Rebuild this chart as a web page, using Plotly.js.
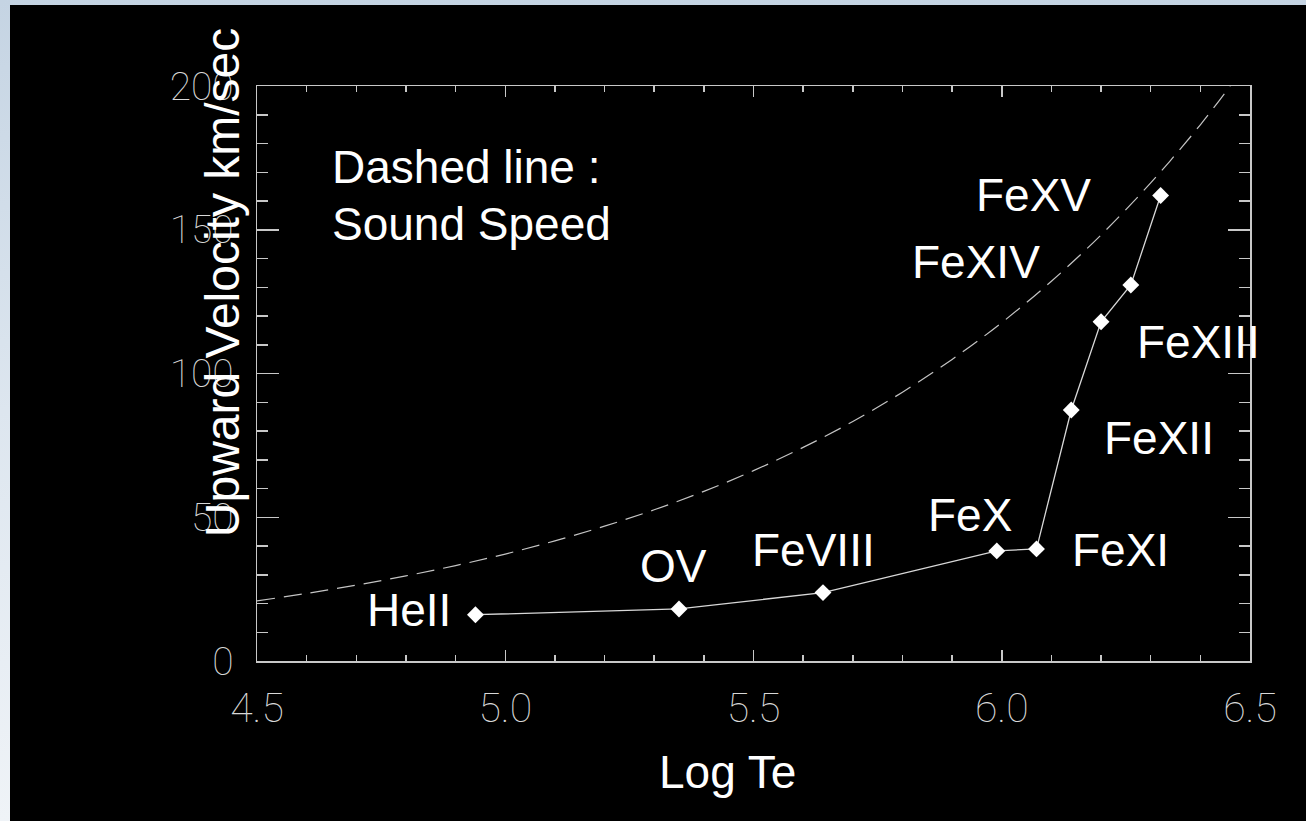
<!DOCTYPE html>
<html>
<head>
<meta charset="utf-8">
<script src="https://cdn.plot.ly/plotly-3.0.1.min.js"></script>
<style>
  html, body { margin: 0; padding: 0; width: 1306px; height: 821px; overflow: hidden;
    background: linear-gradient(to bottom, #c5d4e3 0%, #dde6ef 50%, #eff3f7 100%); }
  #chart { position: absolute; left: 10px; top: 5px; width: 1296px; height: 816px; }
</style>
</head>
<body>
<div id="chart"></div>
<script>
// ---- data ----
const ionLabels = ['HeII', 'OV', 'FeVIII', 'FeX', 'FeXI', 'FeXII', 'FeXIII', 'FeXIV', 'FeXV'];
const logTe = [4.94, 5.35, 5.64, 5.99, 6.07, 6.14, 6.20, 6.26, 6.32];
const upwardVelocity = [16.1, 18.1, 23.8, 38.3, 39.0, 87.3, 118.0, 130.8, 161.9];

const soundLogTe = [4.5, 4.6, 4.7, 4.8, 4.9, 5.0, 5.1, 5.2, 5.3, 5.4, 5.5, 5.6, 5.7, 5.8, 5.9, 6.0, 6.1, 6.2, 6.3, 6.4, 6.46];
const soundSpeed = [20.9, 23.5, 26.4, 29.6, 33.2, 37.2, 41.8, 46.9, 52.6, 59.0, 66.2, 74.3, 83.3, 93.5, 104.9, 117.7, 132.1, 148.2, 166.3, 186.5, 200.0];

const xTickVals = [4.5, 5.0, 5.5, 6.0, 6.5];
const xTickText = ['4.5', '5.0', '5.5', '6.0', '6.5'];
const yTickVals = [0, 50, 100, 150, 200];
const yTickText = ['0', '50', '100', '150', '200'];

// ---- presentation (label offsets in pixels from their point) ----
const labelShiftX = [-66, -6, -10, -27, 84, 88, 97, -155, -127];
const labelShiftY = [5, 43, 43, 36, -1, -28, -20, 23, 1];

const axisColor = '#c8c8c8';
const labelFont = { family: 'Liberation Sans, Arial, sans-serif', size: 46, color: '#ffffff' };
const tickFont = { family: 'Roboto, Liberation Sans, sans-serif', size: 41, color: '#d8d8d8', weight: 100 };

const traces = [
  {
    x: soundLogTe, y: soundSpeed, type: 'scatter', mode: 'lines',
    line: { color: '#c4c4c4', width: 1.2, dash: '18px,9px', shape: 'spline' },
    hoverinfo: 'skip', showlegend: false
  },
  {
    x: logTe, y: upwardVelocity, type: 'scatter', mode: 'lines+markers',
    line: { color: '#d8d8d8', width: 1.3 },
    marker: { symbol: 'diamond', size: 13, color: '#ffffff' },
    text: ionLabels, showlegend: false
  }
];

const annotations = ionLabels.map((t, i) => ({
  x: logTe[i], y: upwardVelocity[i], xref: 'x', yref: 'y',
  text: t, showarrow: false, xanchor: 'center', yanchor: 'middle',
  xshift: labelShiftX[i], yshift: labelShiftY[i], font: labelFont
}));

annotations.push(
  { xref: 'paper', yref: 'paper', x: 0.0735, y: 0.8591, xanchor: 'left', yanchor: 'middle',
    text: 'Dashed line :', showarrow: false, font: labelFont },
  { xref: 'paper', yref: 'paper', x: 0.0735, y: 0.7600, xanchor: 'left', yanchor: 'middle',
    text: 'Sound Speed', showarrow: false, font: labelFont },
  { xref: 'paper', yref: 'paper', x: 0.4743, y: -0.1922, xanchor: 'center', yanchor: 'middle',
    text: 'Log Te', showarrow: false, font: labelFont },
  { xref: 'paper', yref: 'paper', x: -0.0345, y: 0.6583, xanchor: 'center', yanchor: 'middle',
    text: 'Upward Velocity km/sec', textangle: -90, showarrow: false,
    font: { family: labelFont.family, size: 48, color: '#ffffff' } }
);

const layout = {
  width: 1296, height: 816,
  paper_bgcolor: '#000000', plot_bgcolor: '#000000',
  margin: { l: 247, r: 56, t: 81, b: 160, pad: 0 },
  showlegend: false,
  xaxis: {
    range: [4.5, 6.5], tickmode: 'array', tickvals: xTickVals, ticktext: xTickText,
    ticks: 'inside', ticklen: 11, tickwidth: 1.5, tickcolor: axisColor,
    showline: true, linecolor: axisColor, linewidth: 1.5, mirror: 'allticks',
    showgrid: false, zeroline: false, tickfont: tickFont, ticklabelstandoff: 10,
    minor: { dtick: 0.1, ticks: 'inside', ticklen: 6, tickwidth: 1.5, tickcolor: axisColor, showgrid: false }
  },
  yaxis: {
    range: [0, 200], tickmode: 'array', tickvals: yTickVals, ticktext: yTickText,
    ticks: 'inside', ticklen: 22, tickwidth: 1.5, tickcolor: axisColor,
    showline: true, linecolor: axisColor, linewidth: 1.5, mirror: 'allticks',
    showgrid: false, zeroline: false, tickfont: Object.assign({}, tickFont, { size: 39 }),
    ticklabelstandoff: 14,
    minor: { dtick: 10, ticks: 'inside', ticklen: 11, tickwidth: 1.5, tickcolor: axisColor, showgrid: false }
  },
  annotations: annotations
};

Plotly.newPlot('chart', traces, layout, { displayModeBar: false, staticPlot: true });
</script>
</body>
</html>
